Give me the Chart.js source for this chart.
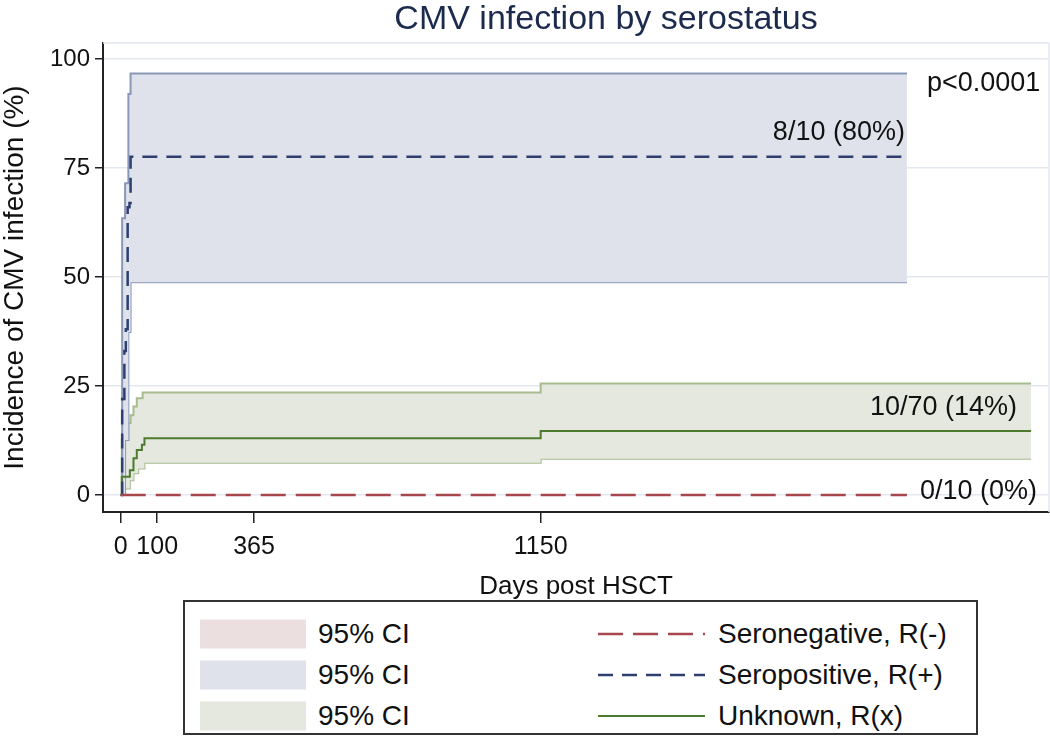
<!DOCTYPE html>
<html>
<head>
<meta charset="utf-8">
<title>CMV infection by serostatus</title>
<script src="https://cdn.jsdelivr.net/npm/chart.js@4"></script>
<style>
  body { margin: 0; background: #fff; font-family: "Liberation Sans", Arial, sans-serif; }
  #wrap { position: relative; width: 1050px; height: 736px; overflow: hidden; }
  #plot { position: absolute; left: 0; top: 0; }
  #title { position: absolute; left: 606px; top: 0; transform: translateX(-50%); white-space: nowrap;
           font-size: 34px; line-height: 34px; color: #1c2b4d; }
  #legend { position: absolute; left: 183px; top: 600px; width: 795px; height: 135px;
            border: 2px solid #333; box-sizing: border-box; }
  .lg { position: absolute; transform: translateY(-50%); font-size: 28px; line-height: 1; color: #111; }
</style>
</head>
<body>
<div id="wrap">
  <canvas id="plot" width="1050" height="600"></canvas>
  <div id="title">CMV infection by serostatus</div>
  <div id="legend"></div>
</div>
<script>
// tick labels
const xTicks = [0, 100, 365, 1150];
const yTicks = [0, 25, 50, 75, 100];

// R(-) seronegative
const negDays = [0, 2153];
const negEst = [0, 0];

// R(+) seropositive
const posDays = [0, 4, 10, 14, 19, 24, 27, 2153];
const posEst = [0, 22, 33, 38, 66, 67, 77.6, 77.6];
const posUpperDays = [0, 4, 12, 21, 27, 2153];
const posUpper = [0, 63.5, 71.5, 92, 96.7, 96.7];
const posLowerDays = [0, 12, 21, 27, 2153];
const posLower = [0, 12.6, 37.4, 48.8, 48.8];

// R(x) unknown
const unkDays = [0, 3, 25, 35, 44, 58, 65, 1150, 2493];
const unkEst = [0, 4.2, 5.7, 8.4, 10.3, 11.5, 13.0, 14.7, 14.7];
const unkUpperDays = [0, 3, 21, 27, 35, 44, 60, 1150, 2493];
const unkUpper = [0, 12.6, 16.5, 18.3, 20.3, 22.2, 23.5, 25.6, 25.6];
const unkLowerDays = [0, 12, 25, 35, 48, 65, 1150, 2493];
const unkLower = [0, 1.5, 3.4, 5.0, 6.1, 7.4, 8.3, 8.3];

const seriesNames = ['Seronegative, R(-)', 'Seropositive, R(+)', 'Unknown, R(x)'];
const ciLabel = '95% CI';
const endLabels = ['0/10 (0%)', '8/10 (80%)', '10/70 (14%)'];
const pLabel = 'p<0.0001';

const FONT = '"Liberation Sans", Arial, sans-serif';
const red = '#a8464d', navy = '#2f3f6f', green = '#4e7a2e';
const blueCi = '#8a98b8', blueFill = '#dfe2eb';
const greenCi = '#a6bc8e', greenFill = '#e5e8de';
const pinkFill = '#ecdfe0';
const redDash = [25, 10], blueDash = [15, 9];

Chart.defaults.font.family = FONT;

function pts(days, vals) {
  return days.map((d, i) => ({x: d, y: vals[i]}));
}
function last(a) { return a[a.length - 1]; }

function line(label, days, vals, color, opts) {
  return Object.assign({
    label: label,
    data: pts(days, vals),
    borderColor: color,
    borderWidth: 2,
    pointRadius: 0,
    stepped: true,
    fill: false
  }, opts || {});
}

// light frame on the top/right of the plot region
const frame = {
  id: 'frame',
  beforeDatasetsDraw(chart) {
    const {ctx, chartArea: a} = chart;
    ctx.save();
    ctx.strokeStyle = '#e3e7f0';
    ctx.lineWidth = 1.5;
    ctx.beginPath();
    ctx.moveTo(a.left, a.top);
    ctx.lineTo(a.right, a.top);
    ctx.lineTo(a.right, a.bottom);
    ctx.stroke();
    ctx.restore();
  }
};

// end-of-curve labels and p value
const endText = {
  id: 'endText',
  afterDatasetsDraw(chart) {
    const {ctx, scales: {x, y}} = chart;
    ctx.save();
    ctx.font = '27px ' + FONT;
    ctx.fillStyle = '#111';
    ctx.textBaseline = 'middle';
    ctx.textAlign = 'left';
    ctx.fillText(endLabels[0], x.getPixelForValue(last(negDays)) + 13, y.getPixelForValue(last(negEst)) - 3);
    ctx.fillText(pLabel, x.getPixelForValue(last(posUpperDays)) + 20, y.getPixelForValue(last(posUpper)) + 10);
    ctx.textAlign = 'right';
    ctx.fillText(endLabels[1], x.getPixelForValue(last(posDays)) - 2, y.getPixelForValue(last(posEst)) - 24);
    ctx.fillText(endLabels[2], x.getPixelForValue(last(unkDays)) - 14, y.getPixelForValue(last(unkEst)) - 23);
    ctx.restore();
  }
};

new Chart(document.getElementById('plot'), {
  type: 'line',
  data: {
    datasets: [
      line(seriesNames[0], negDays, negEst, red, {borderDash: redDash, borderWidth: 2.5}),
      line(seriesNames[1], posDays, posEst, navy, {borderDash: blueDash, borderWidth: 2.5}),
      line(seriesNames[2], unkDays, unkEst, green),
      line(ciLabel, posUpperDays, posUpper, blueCi, {fill: '+1', backgroundColor: blueFill}),
      line(ciLabel, posLowerDays, posLower, blueCi),
      line(ciLabel, unkUpperDays, unkUpper, greenCi, {fill: '+1', backgroundColor: greenFill}),
      line(ciLabel, unkLowerDays, unkLower, greenCi)
    ]
  },
  options: {
    responsive: false,
    animation: false,
    layout: {padding: {top: 43, right: 1}},
    plugins: {
      legend: {display: false},
      tooltip: {enabled: false},
      title: {display: false}
    },
    scales: {
      x: {
        type: 'linear',
        min: -48.5,
        max: 2542,
        afterBuildTicks: s => { s.ticks = xTicks.map(v => ({value: v})); },
        afterFit: s => { s.height = 88; },
        ticks: {font: {size: 25}, color: '#111', padding: 9, maxRotation: 0, autoSkip: false,
                callback: v => String(v)},
        grid: {drawOnChartArea: false, tickColor: '#222', tickLength: 11, lineWidth: 1.5},
        border: {color: '#222', width: 2},
        title: {display: true, text: 'Days post HSCT', color: '#111',
                font: {size: 26, lineHeight: 1}, padding: 0}
      },
      y: {
        min: -3.9,
        max: 103.67,
        afterBuildTicks: s => { s.ticks = yTicks.map(v => ({value: v})); },
        afterFit: s => { s.width = 103; },
        ticks: {font: {size: 24}, color: '#111', padding: 5, callback: v => String(v)},
        grid: {color: '#e3e7f0', lineWidth: 1.5, tickColor: '#222', tickLength: 8},
        border: {color: '#222', width: 2},
        title: {display: true, text: 'Incidence of CMV infection (%)', color: '#111',
                font: {size: 28, lineHeight: 1}, padding: {top: 1, bottom: 0}}
      }
    }
  },
  plugins: [frame, endText]
});

// legend: CI swatches on the left, curve styles on the right
const legendRows = [
  {fill: pinkFill, color: red, dash: redDash, width: 2.5},
  {fill: blueFill, color: navy, dash: blueDash, width: 2.5},
  {fill: greenFill, color: green, dash: [], width: 2}
];
const rowCenters = [32, 73, 114];
const legend = document.getElementById('legend');
legendRows.forEach((r, i) => {
  const top = rowCenters[i] + 'px';
  const sw = document.createElement('div');
  sw.className = 'lg';
  Object.assign(sw.style, {left: '15px', top: top, width: '106px', height: '29px', background: r.fill});
  legend.appendChild(sw);

  const t1 = document.createElement('div');
  t1.className = 'lg';
  Object.assign(t1.style, {left: '133px', top: top});
  t1.textContent = ciLabel;
  legend.appendChild(t1);

  const svgNS = 'http://www.w3.org/2000/svg';
  const svg = document.createElementNS(svgNS, 'svg');
  svg.setAttribute('width', '107');
  svg.setAttribute('height', '6');
  svg.setAttribute('class', 'lg');
  svg.style.left = '413px';
  svg.style.top = top;
  const ln = document.createElementNS(svgNS, 'line');
  ln.setAttribute('x1', '0'); ln.setAttribute('y1', '3');
  ln.setAttribute('x2', '107'); ln.setAttribute('y2', '3');
  ln.setAttribute('stroke', r.color);
  ln.setAttribute('stroke-width', r.width);
  if (r.dash.length) ln.setAttribute('stroke-dasharray', r.dash.join(' '));
  svg.appendChild(ln);
  legend.appendChild(svg);

  const t2 = document.createElement('div');
  t2.className = 'lg';
  Object.assign(t2.style, {left: '533px', top: top});
  t2.textContent = seriesNames[i];
  legend.appendChild(t2);
});
</script>
</body>
</html>
